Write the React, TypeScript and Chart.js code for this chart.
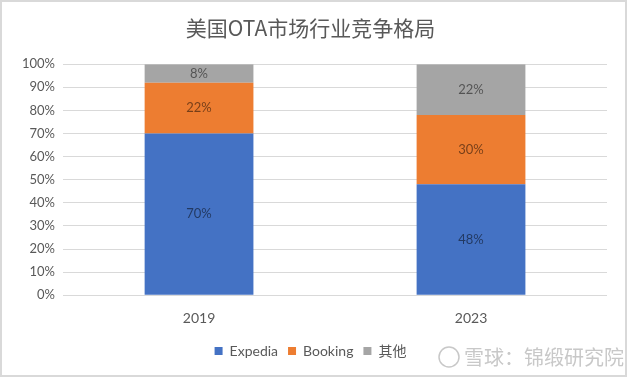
import React, { useEffect, useRef } from "react";
import { Chart, registerables } from "chart.js";

Chart.register(...registerables);

const title = "美国OTA市场行业竞争格局";
const categories = ["2019", "2023"];
const seriesNames = ["Expedia", "Booking", "其他"];
const expedia = [70, 48];
const booking = [22, 30];
const others = [8, 22];
const colors = ["#4472C4", "#ED7D31", "#A5A5A5"];
const yTicks = [0, 10, 20, 30, 40, 50, 60, 70, 80, 90, 100];
const watermark = "雪球：锦缎研究院";

const FONT = "Lato, 'Noto Sans CJK SC', sans-serif";

const labelPlugin = {
  id: "barLabels",
  afterDatasetsDraw(chart: any) {
    const ctx = chart.ctx;
    ctx.save();
    ctx.font = `13px ${FONT}`;
    ctx.fillStyle = "rgba(0,0,0,0.5)";
    ctx.textAlign = "center";
    ctx.textBaseline = "middle";
    chart.data.datasets.forEach((ds: any, i: number) => {
      const meta = chart.getDatasetMeta(i);
      meta.data.forEach((el: any, j: number) => {
        const p = el.getCenterPoint();
        ctx.fillText(ds.data[j] + "%", p.x, p.y);
      });
    });
    ctx.restore();
  },
};

const framePlugin = {
  id: "frame",
  afterDraw(chart: any) {
    const ctx = chart.ctx;
    const w = chart.width;
    const h = chart.height;
    ctx.save();
    ctx.strokeStyle = "#D9D9D9";
    ctx.lineWidth = 2;
    ctx.strokeRect(1, 1, w - 2, h - 2);
    // watermark
    ctx.fillStyle = "#C8C8C8";
    ctx.strokeStyle = "#C8C8C8";
    ctx.lineWidth = 1.5;
    ctx.beginPath();
    ctx.arc(449, 357, 10, 0, Math.PI * 2);
    ctx.stroke();
    ctx.font = `20px 'Noto Sans CJK SC', sans-serif`;
    ctx.textAlign = "left";
    ctx.textBaseline = "middle";
    ctx.fillText(watermark, 464, 357);
    ctx.restore();
  },
};

export default function App() {
  const ref = useRef<HTMLCanvasElement | null>(null);
  useEffect(() => {
    document.body.style.margin = "0";
    const data = [expedia, booking, others];
    const chart = new Chart(ref.current as HTMLCanvasElement, {
      type: "bar",
      data: {
        labels: categories,
        datasets: seriesNames.map((n, i) => ({
          label: n,
          data: data[i],
          backgroundColor: colors[i],
          borderWidth: 0,
          categoryPercentage: 1,
          barPercentage: 0.4,
        })),
      },
      options: {
        animation: false,
        responsive: false,
        maintainAspectRatio: false,
        layout: { padding: { left: 14, right: 20, top: 0, bottom: 9 } },
        plugins: {
          tooltip: { enabled: false },
          title: {
            display: true,
            text: title,
            color: "#595959",
            font: { family: "'Noto Sans CJK SC', sans-serif", size: 21, weight: "normal" },
            padding: { top: 15, bottom: 24 },
          },
          legend: {
            position: "bottom",
            labels: {
              color: "#595959",
              font: { family: FONT, size: 14 },
              boxWidth: 8,
              boxHeight: 8,
              padding: 10,
            },
          },
        },
        scales: {
          x: {
            stacked: true,
            grid: { display: false },
            border: { display: false },
            ticks: { color: "#595959", font: { family: FONT, size: 14 }, padding: 7 },
          },
          y: {
            stacked: true,
            min: 0,
            max: 100,
            afterBuildTicks: (axis: any) => {
              axis.ticks = yTicks.map((v) => ({ value: v }));
            },
            grid: { color: "#D9D9D9", drawTicks: false },
            border: { display: false },
            ticks: {
              color: "#595959",
              font: { family: FONT, size: 13 },
              padding: 8,
              callback: (v: any) => v + "%",
            },
          },
        },
      },
      plugins: [labelPlugin, framePlugin],
    });
    return () => chart.destroy();
  }, []);
  return (
    <div style={{ width: 627, height: 377 }}>
      <canvas ref={ref} width={627} height={377} style={{ display: "block" }} />
    </div>
  );
}
